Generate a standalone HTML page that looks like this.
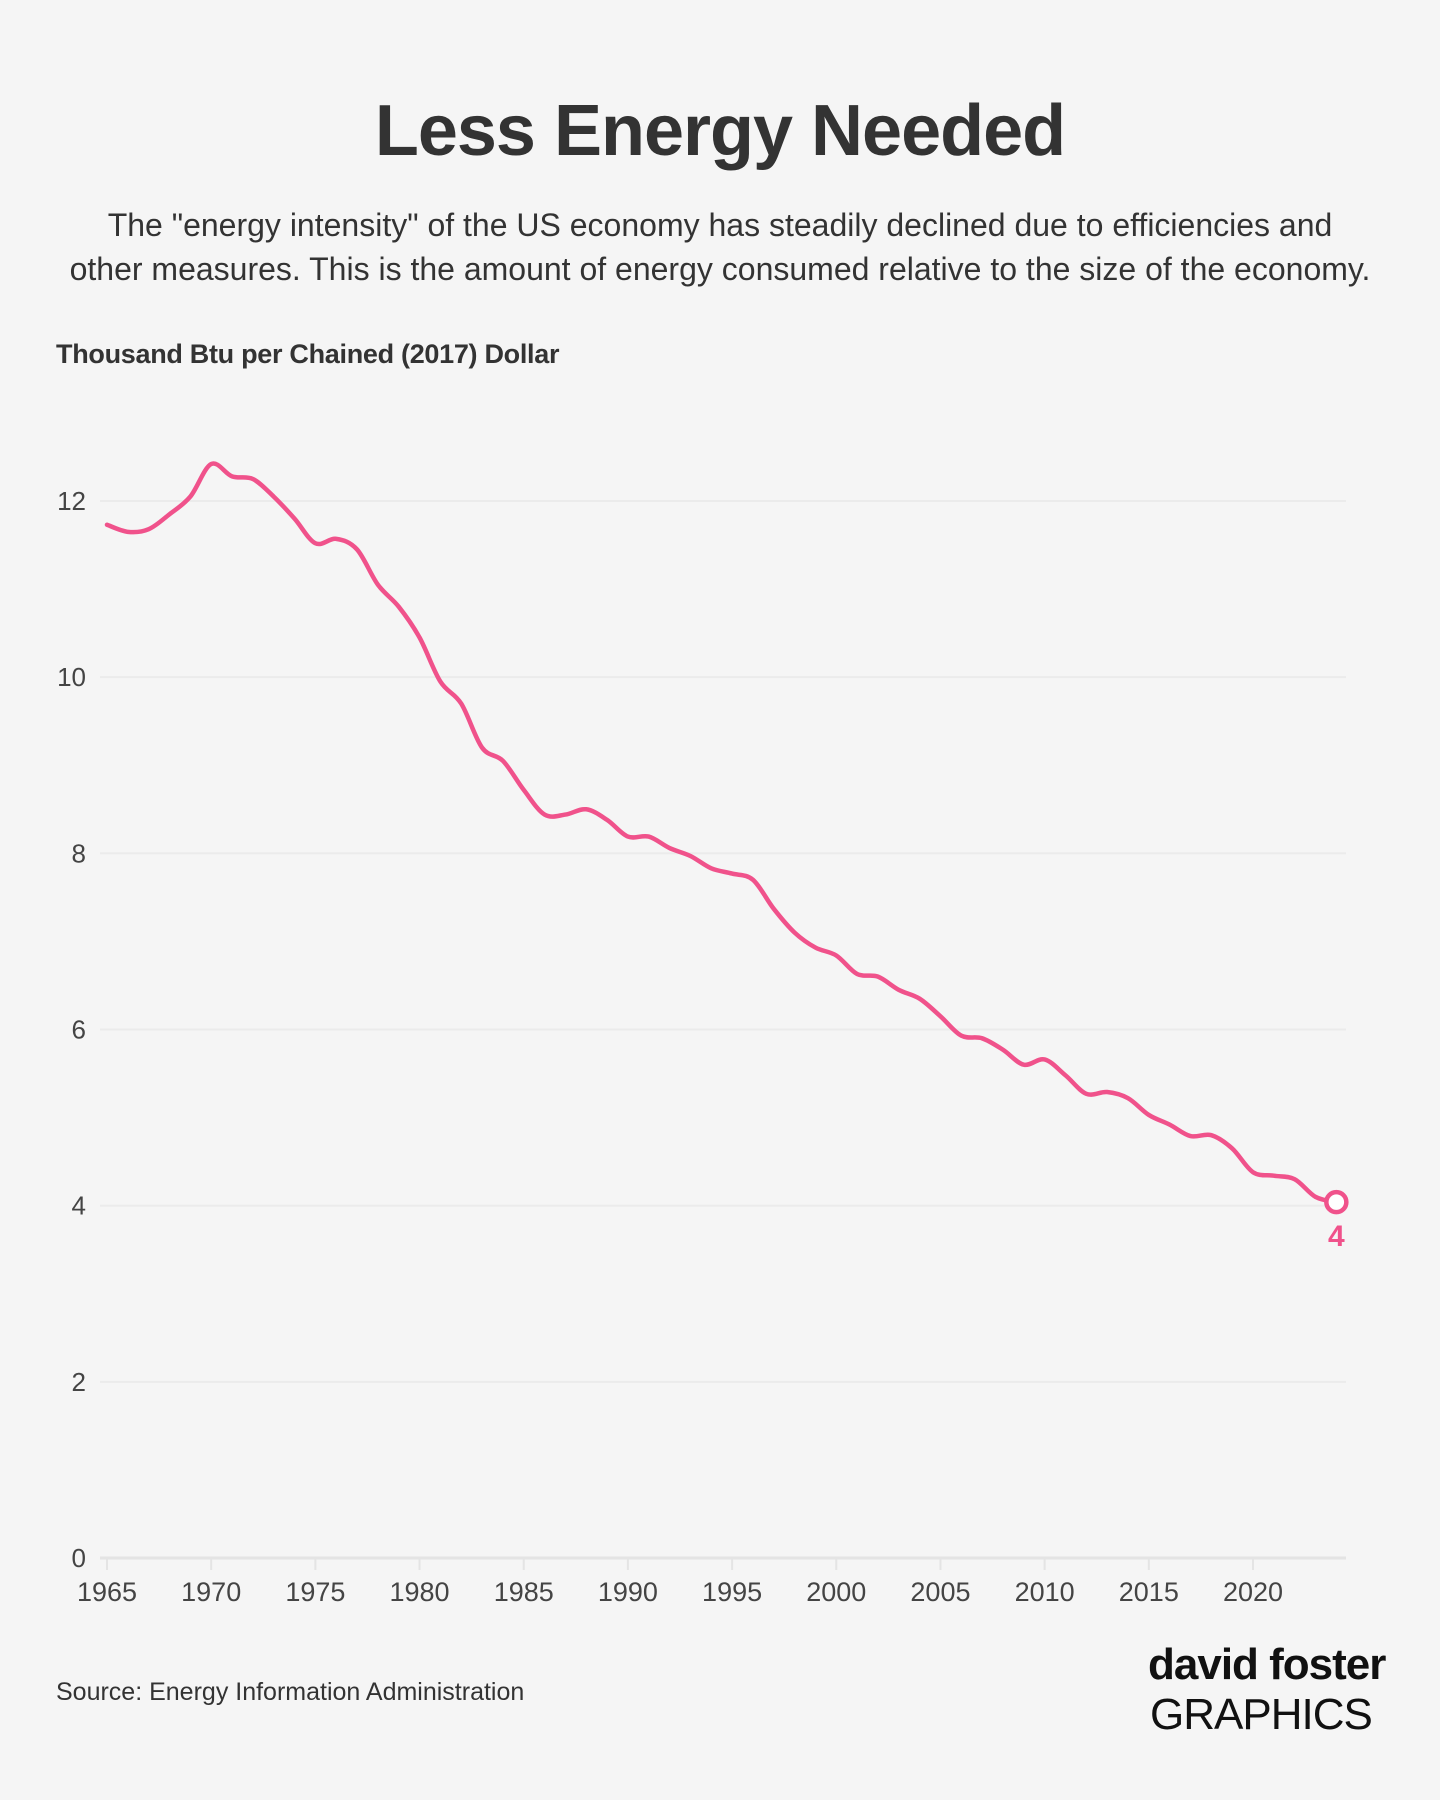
<!DOCTYPE html>
<html><head><meta charset="utf-8">
<style>
html,body{margin:0;padding:0;background:#f5f5f5;}
body{width:1440px;height:1800px;position:relative;overflow:hidden;font-family:"Liberation Sans",sans-serif;color:#333;}
.t{position:absolute;margin:0;}
#title{top:90px;left:0;width:1440px;text-align:center;font-size:72px;font-weight:bold;letter-spacing:-1px;}
#sub{top:203px;left:0;width:1440px;text-align:center;font-size:32px;line-height:44px;color:#333;}
#ytitle{top:339px;left:56px;font-family:"Liberation Sans Narrow","Liberation Sans",sans-serif;font-weight:bold;font-size:27px;letter-spacing:-0.3px;}
#source{top:1678px;left:56px;font-family:"Liberation Sans Narrow","Liberation Sans",sans-serif;font-size:25px;}
#logo1{top:1640px;left:1148px;font-size:44px;font-weight:bold;letter-spacing:-1px;color:#111;}
#logo2{top:1690px;left:1150px;font-size:44px;letter-spacing:-1px;color:#111;}
svg{position:absolute;left:0;top:0;}
</style></head><body>
<h1 class="t" id="title">Less Energy Needed</h1>
<p class="t" id="sub">The "energy intensity" of the US economy has steadily declined due to efficiencies and<br>other measures. This is the amount of energy consumed relative to the size of the economy.</p>
<div class="t" id="ytitle">Thousand Btu per Chained (2017) Dollar</div>
<div class="t" id="source">Source: Energy Information Administration</div>
<div class="t" id="logo1">david foster</div>
<div class="t" id="logo2">GRAPHICS</div>
<svg id="chart" width="1440" height="1800"></svg>
<script>
const years = [1965,1966,1967,1968,1969,1970,1971,1972,1973,1974,1975,1976,1977,1978,1979,1980,1981,1982,1983,1984,1985,1986,1987,1988,1989,1990,1991,1992,1993,1994,1995,1996,1997,1998,1999,2000,2001,2002,2003,2004,2005,2006,2007,2008,2009,2010,2011,2012,2013,2014,2015,2016,2017,2018,2019,2020,2021,2022,2023,2024];
const values = [11.73,11.65,11.68,11.85,12.05,12.42,12.28,12.25,12.05,11.8,11.52,11.57,11.45,11.05,10.8,10.45,9.95,9.7,9.2,9.05,8.72,8.44,8.44,8.5,8.38,8.19,8.19,8.06,7.97,7.83,7.77,7.7,7.37,7.1,6.93,6.84,6.63,6.6,6.45,6.35,6.15,5.93,5.9,5.77,5.6,5.66,5.48,5.27,5.29,5.22,5.03,4.92,4.79,4.8,4.65,4.38,4.34,4.3,4.1,4.04];
const yTicks = [0,2,4,6,8,10,12];
const xTicks = [1965,1970,1975,1980,1985,1990,1995,2000,2005,2010,2015,2020];
const endLabel = "4";

const NS="http://www.w3.org/2000/svg";
const svg=document.getElementById('chart');
const X0=107,X1=1253,Y0=1558,Y12=501;
const x=yr=>X0+(yr-1965)*(X1-X0)/55;
const y=v=>Y0+(v)*(Y12-Y0)/12;
function mk(tag,attrs){const e=document.createElementNS(NS,tag);for(const k in attrs)e.setAttribute(k,attrs[k]);svg.appendChild(e);return e;}
const cf='"Liberation Sans Narrow","Liberation Sans",sans-serif';
yTicks.forEach(t=>{
  const l=mk('line',{x1:100,x2:1346,y1:y(t),y2:y(t),stroke:t===0?'#e4e4e4':'#ebebeb','stroke-width':t===0?3:2});
  
  
  const tx=mk('text',{x:86,y:y(t)+9,'text-anchor':'end','font-size':26,fill:'#444','font-family':cf});
  tx.textContent=t;
  
  
});
xTicks.forEach(t=>{
  const l=mk('line',{x1:x(t),x2:x(t),y1:Y0,y2:Y0+12,stroke:'#e4e4e4','stroke-width':2});
  
  
  const tx=mk('text',{x:x(t),y:Y0+43,'text-anchor':'middle','font-size':27,fill:'#444','font-family':cf});
  tx.textContent=t;
  
  
});
const pts=years.map((yr,i)=>[x(yr),y(values[i])]);
let d='M'+pts[0][0]+','+pts[0][1];
for(let i=0;i<pts.length-1;i++){
  const p0=pts[Math.max(0,i-1)],p1=pts[i],p2=pts[i+1],p3=pts[Math.min(pts.length-1,i+2)];
  const c1=[p1[0]+(p2[0]-p0[0])/6,p1[1]+(p2[1]-p0[1])/6];
  const c2=[p2[0]-(p3[0]-p1[0])/6,p2[1]-(p3[1]-p1[1])/6];
  d+=` C${c1[0]},${c1[1]} ${c2[0]},${c2[1]} ${p2[0]},${p2[1]}`;
}
const path=mk('path',{d:d,fill:'none',stroke:'#f0528b','stroke-width':4.5,'stroke-linejoin':'round','stroke-linecap':'round'});


const last=pts[pts.length-1];
const c=mk('circle',{cx:last[0],cy:last[1],r:10,fill:'#fff',stroke:'#f0528b','stroke-width':4.5});


const lb=mk('text',{x:last[0],y:last[1]+44,'text-anchor':'middle','font-size':30,'font-weight':'bold',fill:'#f0528b','font-family':cf});
lb.textContent=endLabel;


</script>
</body></html>
